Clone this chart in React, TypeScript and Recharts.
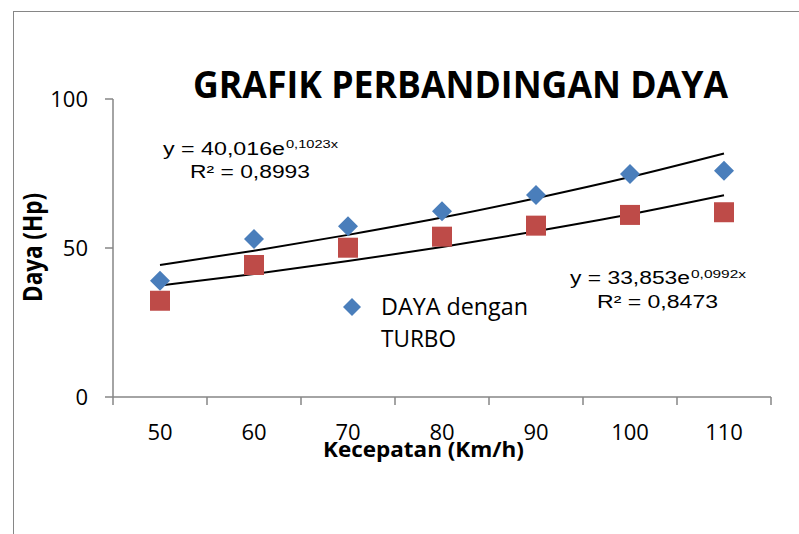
import { ComposedChart, Line, XAxis, YAxis, Legend } from 'recharts'

// kecepatan (km/h) dan daya (hp) per titik uji
const speeds = [50, 60, 70, 80, 90, 100, 110]
const dayaTurbo = [39, 53, 57.3, 62.3, 67.8, 74.8, 75.9]
const dayaNonTurbo = [32.3, 44.3, 50.1, 53.8, 57.5, 61.1, 62]
// garis trend eksponensial
const trendTurbo = [44.3, 49.1, 54.4, 60.2, 66.7, 73.8, 81.7]
const trendNonTurbo = [37.4, 41.3, 45.6, 50.3, 55.6, 61.3, 67.7]
const yTicks = [0, 50, 100]

const data = speeds.map((s, i) => ({
    x: i + 1,
    speed: s,
    turbo: dayaTurbo[i],
    nonTurbo: dayaNonTurbo[i],
    trendTurbo: trendTurbo[i],
    trendNonTurbo: trendNonTurbo[i],
}))

// tick marks sit between categories, labels at the centers
const xTicks = speeds.flatMap((_, i) => [i + 0.5, i + 1]).concat(speeds.length + 0.5)

const BLUE = '#4A7EBB'
const RED = '#BE4B48'
const AXIS = '#868686'
const SANS = '"Open Sans", "Noto Sans", sans-serif'
const ARIAL = '"Liberation Sans", Arial, sans-serif'

function SpeedTick(props: any) {
    const { x, y, payload, index } = props
    const v = payload.value
    if (Number.isInteger(v)) {
        return (
            <text key={`t-${index}`} x={x} y={y + 43} textAnchor="middle" fontSize={22} fontFamily={SANS} fill="#000">
                {speeds[v - 1]}
            </text>
        )
    }
    return <line key={`t-${index}`} x1={x} x2={x} y1={y} y2={y + 8} stroke={AXIS} strokeWidth={1.5} />
}

function DiamondDot(props: any) {
    const { cx, cy, index } = props
    if (cx == null || cy == null) return <g key={`d-${index}`} />
    const r = 10
    return (
        <polygon
            key={`d-${index}`}
            points={`${cx},${cy - r} ${cx + r},${cy} ${cx},${cy + r} ${cx - r},${cy}`}
            fill={BLUE}
        />
    )
}

function SquareDot(props: any) {
    const { cx, cy, index } = props
    if (cx == null || cy == null) return <g key={`s-${index}`} />
    return <rect key={`s-${index}`} x={cx - 10} y={cy - 10} width={20} height={20} fill={RED} />
}

function LegendBox() {
    return (
        <svg width={220} height={70}>
            <polygon points="22,13 31,22 22,31 13,22" fill={BLUE} />
            <text x={51} y={30} fontSize={23} fontFamily={SANS} fill="#000" textLength={147} lengthAdjust="spacingAndGlyphs">
                DAYA dengan
            </text>
            <text x={51} y={62} fontSize={23} fontFamily={SANS} fill="#000" textLength={75} lengthAdjust="spacingAndGlyphs">
                TURBO
            </text>
        </svg>
    )
}

export default function App() {
    return (
        <div style={{ position: 'relative', width: 799, height: 534, overflow: 'hidden', background: '#fff' }}>
            <style>{'body{margin:0}'}</style>
            <div
                style={{
                    position: 'absolute',
                    left: 13,
                    top: 11,
                    width: 900,
                    height: 700,
                    border: `1.5px solid ${AXIS}`,
                }}
            />
            <div style={{ position: 'absolute', left: 0, top: 0 }}>
                <ComposedChart width={799} height={534} data={data} margin={{ top: 99, right: 28, bottom: 0, left: 0 }}>
                    <XAxis
                        type="number"
                        dataKey="x"
                        domain={[0.5, speeds.length + 0.5]}
                        ticks={xTicks}
                        interval={0}
                        height={137}
                        tickLine={false}
                        tickSize={0}
                        tickMargin={0}
                        axisLine={{ stroke: AXIS, strokeWidth: 1.5 }}
                        tick={(p: any) => <SpeedTick {...p} />}
                    />
                    <YAxis
                        type="number"
                        domain={[0, 100]}
                        ticks={yTicks}
                        width={113}
                        tickSize={8}
                        tickMargin={17}
                        axisLine={{ stroke: AXIS, strokeWidth: 1.5 }}
                        tickLine={{ stroke: AXIS, strokeWidth: 1.5 }}
                        tick={{ fill: '#000', fontSize: 22, fontFamily: SANS }}
                    />
                    <Line
                        dataKey="turbo"
                        name="DAYA dengan TURBO"
                        stroke="none"
                        dot={(p: any) => <DiamondDot {...p} />}
                        activeDot={false}
                        legendType="diamond"
                        isAnimationActive={false}
                    />
                    <Line
                        dataKey="nonTurbo"
                        stroke="none"
                        dot={(p: any) => <SquareDot {...p} />}
                        activeDot={false}
                        legendType="none"
                        isAnimationActive={false}
                    />
                    <Line
                        dataKey="trendTurbo"
                        type="monotone"
                        stroke="#000"
                        strokeWidth={2}
                        dot={false}
                        activeDot={false}
                        legendType="none"
                        isAnimationActive={false}
                    />
                    <Line
                        dataKey="trendNonTurbo"
                        type="monotone"
                        stroke="#000"
                        strokeWidth={2}
                        dot={false}
                        activeDot={false}
                        legendType="none"
                        isAnimationActive={false}
                    />
                    <Legend
                        layout="vertical"
                        align="center"
                        verticalAlign="middle"
                        wrapperStyle={{ left: 330, top: 285, width: 220, height: 70 }}
                        content={() => <LegendBox />}
                    />
                </ComposedChart>
            </div>
            <svg
                width={799}
                height={534}
                style={{ position: 'absolute', left: 0, top: 0, pointerEvents: 'none' }}
            >
                <text
                    x={460.5}
                    y={98}
                    textAnchor="middle"
                    fontSize={37}
                    fontWeight={700}
                    fontFamily={SANS}
                    fill="#000"
                    textLength={535}
                    lengthAdjust="spacingAndGlyphs"
                >
                    GRAFIK PERBANDINGAN DAYA
                </text>
                <text x={163} y={155} fontSize={18} fontFamily={ARIAL} fill="#000" textLength={122} lengthAdjust="spacingAndGlyphs">
                    y = 40,016e
                </text>
                <text x={286} y={148} fontSize={11.5} fontFamily={ARIAL} fill="#000" textLength={52} lengthAdjust="spacingAndGlyphs">
                    0,1023x
                </text>
                <text x={190} y={178} fontSize={18} fontFamily={ARIAL} fill="#000" textLength={120} lengthAdjust="spacingAndGlyphs">
                    R² = 0,8993
                </text>
                <text x={570} y={284} fontSize={18} fontFamily={ARIAL} fill="#000" textLength={120} lengthAdjust="spacingAndGlyphs">
                    y = 33,853e
                </text>
                <text x={691} y={278} fontSize={11.5} fontFamily={ARIAL} fill="#000" textLength={55} lengthAdjust="spacingAndGlyphs">
                    0,0992x
                </text>
                <text x={597} y={308} fontSize={18} fontFamily={ARIAL} fill="#000" textLength={121} lengthAdjust="spacingAndGlyphs">
                    R² = 0,8473
                </text>
                <text
                    x={323}
                    y={457}
                    fontSize={21}
                    fontWeight={700}
                    fontFamily={SANS}
                    fill="#000"
                    textLength={201}
                    lengthAdjust="spacingAndGlyphs"
                >
                    Kecepatan (Km/h)
                </text>
                <text
                    transform="translate(42,247.5) scale(1.3,1) rotate(-90)"
                    textAnchor="middle"
                    fontSize={21}
                    fontWeight={700}
                    fontFamily={SANS}
                    fill="#000"
                    textLength={109}
                    lengthAdjust="spacingAndGlyphs"
                >
                    Daya (Hp)
                </text>
            </svg>
        </div>
    )
}
